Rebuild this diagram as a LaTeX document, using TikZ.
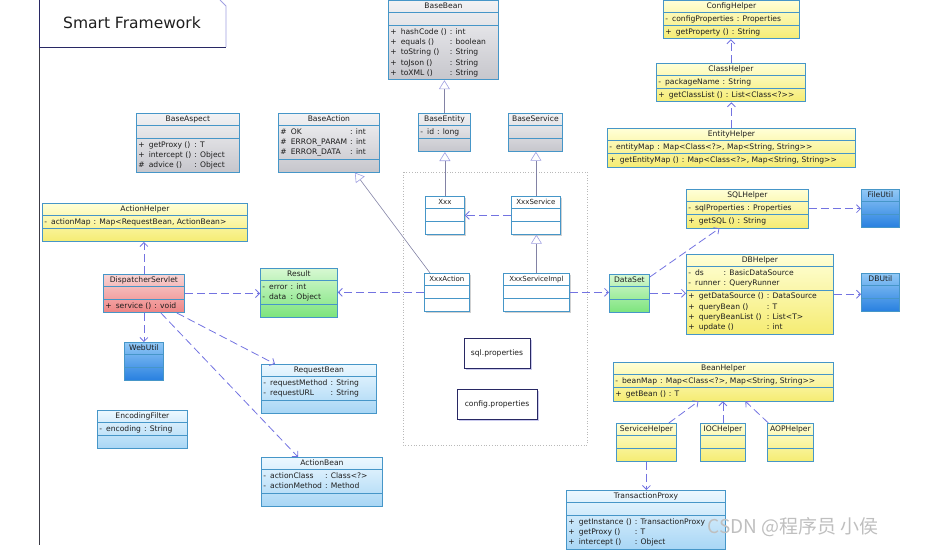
\documentclass[tikz,border=0pt]{standalone}
\usepackage{fontspec}
\setmainfont{DejaVu Sans}
\newfontfamily\cjkfont{Noto Sans CJK SC}
\usepackage{xcolor}
\usetikzlibrary{shapes.multipart, arrows.meta, shadows, calc}

\definecolor{umlborder}{RGB}{70,150,200}
\definecolor{deparrow}{RGB}{115,115,225}
\definecolor{genline}{RGB}{130,130,165}
\definecolor{gentip}{RGB}{160,160,225}
\definecolor{notenavy}{RGB}{40,40,100}
\definecolor{framegray}{RGB}{60,60,70}
\definecolor{txt}{RGB}{30,30,30}
\definecolor{grayTop}{RGB}{242,242,244}
\definecolor{grayBot}{RGB}{198,198,204}
\definecolor{yellowTop}{RGB}{255,255,215}
\definecolor{yellowBot}{RGB}{245,236,115}
\definecolor{greenTop}{RGB}{215,248,210}
\definecolor{greenBot}{RGB}{125,228,125}
\definecolor{redTop}{RGB}{248,212,212}
\definecolor{redBot}{RGB}{238,132,132}
\definecolor{blueTop}{RGB}{145,200,246}
\definecolor{blueBot}{RGB}{40,128,224}
\definecolor{lblueTop}{RGB}{236,248,255}
\definecolor{lblueBot}{RGB}{168,214,245}

\newcommand{\umlmembers}[1]{\begin{tabular}{@{}l@{\hspace{4pt}}l@{\hspace{3pt}}l@{}}#1\end{tabular}}
\newcommand{\umltitle}[1]{\rule[-2.5pt]{0pt}{9.5pt}#1}

\begin{document}
\begin{tikzpicture}[
    x=1pt, y=-1pt,
    umlclass/.style={draw=umlborder, line width=0.8pt, rectangle split, rectangle split parts=3,
        rectangle split part align={center,left,left}, rectangle split empty part height=10pt,
        anchor=north west, inner xsep=2pt, inner ysep=1pt, text=txt,
        font=\fontsize{7.6}{10.3}\selectfont},
    graybox/.style={umlclass, top color=grayTop, bottom color=grayBot},
    yellowbox/.style={umlclass, top color=yellowTop, bottom color=yellowBot},
    greenbox/.style={umlclass, top color=greenTop, bottom color=greenBot},
    redbox/.style={umlclass, top color=redTop, bottom color=redBot},
    bluebox/.style={umlclass, top color=blueTop, bottom color=blueBot},
    lbluebox/.style={umlclass, top color=lblueTop, bottom color=lblueBot},
    whitebox/.style={umlclass, fill=white, inner xsep=1.5pt, font=\fontsize{7}{10.3}\selectfont,
        drop shadow={shadow xshift=1.5pt, shadow yshift=-1.5pt, fill=gray!60, opacity=0.6}},
    notebox/.style={draw=notenavy, line width=0.8pt, fill=white, text=txt, minimum height=30pt,
        font=\fontsize{7.6}{9}\selectfont,
        drop shadow={shadow xshift=2pt, shadow yshift=-2pt, fill=gentip!70, opacity=0.8}},
    dep/.style={draw=deparrow, line width=0.8pt, dash pattern=on 8pt off 4pt,
        -{Straight Barb[length=4pt, width=8pt]}},
    gen/.style={draw=genline, line width=0.6pt,
        -{Triangle[open, length=9pt, width=11pt, color=gentip, fill=white]}}
]
    \useasboundingbox (0,0) rectangle (944,559);

    % Frame and title
    \draw[framegray, line width=0.8pt] (39,0) -- (39,545);
    \draw[notenavy, line width=0.8pt] (39,0) -- (39,47) -- (226,47);
    \draw[gentip, line width=0.8pt] (220,0) -- (226,6) -- (226,47);
    \node[font=\fontsize{15.5}{18}\selectfont, text=txt] (frametitle) at (132,23) {Smart Framework};

    % Package of application classes
    \draw[gray!55, dotted, line width=0.7pt] (403,172) rectangle (587,445);

    % Base classes
    \node[graybox, minimum width=110pt] (basebean) at (388,0) {\umltitle{BaseBean}
        \nodepart{two}
        \nodepart{three}\umlmembers{+ & hashCode () & : int\\ + & equals () & : boolean\\ + & toString () & : String\\ + & toJson () & : String\\ + & toXML () & : String}};
    \node[graybox, minimum width=103pt] (baseaspect) at (136,113) {\umltitle{BaseAspect}
        \nodepart{two}
        \nodepart{three}\umlmembers{+ & getProxy () & : T\\ + & intercept () & : Object\\ \# & advice () & : Object}};
    \node[graybox, minimum width=101pt] (baseaction) at (278,113) {\umltitle{BaseAction}
        \nodepart{two}\umlmembers{\# & OK & : int\\ \# & ERROR\_PARAM & : int\\ \# & ERROR\_DATA & : int}
        \nodepart{three}};
    \node[graybox, minimum width=52pt] (baseentity) at (418,113) {\umltitle{BaseEntity}
        \nodepart{two}\umlmembers{- & id & : long}
        \nodepart{three}};
    \node[graybox, minimum width=54pt] (baseservice) at (508,113) {\umltitle{BaseService}
        \nodepart{two}
        \nodepart{three}};

    % Application classes
    \node[whitebox, minimum width=39pt] (xxx) at (425,196) {\umltitle{Xxx}\nodepart{two}\nodepart{three}};
    \node[whitebox, minimum width=49pt] (xxxservice) at (511,196) {\umltitle{XxxService}\nodepart{two}\nodepart{three}};
    \node[whitebox, minimum width=45pt] (xxxaction) at (424,273) {\umltitle{XxxAction}\nodepart{two}\nodepart{three}};
    \node[whitebox, minimum width=66pt] (xxxserviceimpl) at (503,273) {\umltitle{XxxServiceImpl}\nodepart{two}\nodepart{three}};
    \node[notebox, minimum width=66pt] (sqlprops) at (497,353) {sql.properties};
    \node[notebox, minimum width=80pt] (configprops) at (497,404) {config.properties};

    % MVC side
    \node[yellowbox, minimum width=205pt] (actionhelper) at (42,203) {\umltitle{ActionHelper}
        \nodepart{two}\umlmembers{- & actionMap & : Map<RequestBean, ActionBean>}
        \nodepart{three}};
    \node[redbox, minimum width=81pt] (dispatcher) at (103,274) {\umltitle{DispatcherServlet}
        \nodepart{two}
        \nodepart{three}\umlmembers{+ & service () & : void}};
    \node[greenbox, minimum width=77pt] (result) at (260,268) {\umltitle{Result}
        \nodepart{two}\umlmembers{- & error & : int\\ - & data & : Object}
        \nodepart{three}};
    \node[bluebox, minimum width=39pt] (webutil) at (124,342) {\umltitle{WebUtil}\nodepart{two}\nodepart{three}};
    \node[lbluebox, minimum width=115pt] (requestbean) at (261,364) {\umltitle{RequestBean}
        \nodepart{two}\umlmembers{- & requestMethod & : String\\ - & requestURL & : String}
        \nodepart{three}};
    \node[lbluebox, minimum width=90pt] (encodingfilter) at (97,410) {\umltitle{EncodingFilter}
        \nodepart{two}\umlmembers{- & encoding & : String}
        \nodepart{three}};
    \node[lbluebox, minimum width=121pt] (actionbean) at (261,457) {\umltitle{ActionBean}
        \nodepart{two}\umlmembers{- & actionClass & : Class<?>\\ - & actionMethod & : Method}
        \nodepart{three}};

    % Helpers
    \node[yellowbox, minimum width=136pt] (confighelper) at (663,0) {\umltitle{ConfigHelper}
        \nodepart{two}\umlmembers{- & configProperties & : Properties}
        \nodepart{three}\umlmembers{+ & getProperty () & : String}};
    \node[yellowbox, minimum width=149pt] (classhelper) at (656,63) {\umltitle{ClassHelper}
        \nodepart{two}\umlmembers{- & packageName & : String}
        \nodepart{three}\umlmembers{+ & getClassList () & : List<Class<?>{}>}};
    \node[yellowbox, minimum width=248pt] (entityhelper) at (607,128) {\umltitle{EntityHelper}
        \nodepart{two}\umlmembers{- & entityMap & : Map<Class<?>, Map<String, String>{}>}
        \nodepart{three}\umlmembers{+ & getEntityMap () & : Map<Class<?>, Map<String, String>{}>}};
    \node[greenbox, minimum width=40pt] (dataset) at (609,274) {\umltitle{DataSet}\nodepart{two}\nodepart{three}};
    \node[yellowbox, minimum width=122pt] (sqlhelper) at (686,189) {\umltitle{SQLHelper}
        \nodepart{two}\umlmembers{- & sqlProperties & : Properties}
        \nodepart{three}\umlmembers{+ & getSQL () & : String}};
    \node[yellowbox, minimum width=147pt] (dbhelper) at (686,254) {\umltitle{DBHelper}
        \nodepart{two}\umlmembers{- & ds & : BasicDataSource\\ - & runner & : QueryRunner}
        \nodepart{three}\umlmembers{+ & getDataSource () & : DataSource\\ + & queryBean () & : T\\ + & queryBeanList () & : List<T>\\ + & update () & : int}};
    \node[bluebox, minimum width=38pt] (fileutil) at (861,189) {\umltitle{FileUtil}\nodepart{two}\nodepart{three}};
    \node[bluebox, minimum width=38pt] (dbutil) at (861,273) {\umltitle{DBUtil}\nodepart{two}\nodepart{three}};
    \node[yellowbox, minimum width=220pt] (beanhelper) at (613,362) {\umltitle{BeanHelper}
        \nodepart{two}\umlmembers{- & beanMap & : Map<Class<?>, Map<String, String>{}>}
        \nodepart{three}\umlmembers{+ & getBean () & : T}};
    \node[yellowbox, minimum width=60pt] (servicehelper) at (616,423) {\umltitle{ServiceHelper}\nodepart{two}\nodepart{three}};
    \node[yellowbox, minimum width=45pt] (iochelper) at (700,423) {\umltitle{IOCHelper}\nodepart{two}\nodepart{three}};
    \node[yellowbox, minimum width=46pt] (aophelper) at (767,423) {\umltitle{AOPHelper}\nodepart{two}\nodepart{three}};
    \node[lbluebox, minimum width=159pt] (transproxy) at (566,490) {\umltitle{TransactionProxy}
        \nodepart{two}
        \nodepart{three}\umlmembers{+ & getInstance () & : TransactionProxy\\ + & getProxy () & : T\\ + & intercept () & : Object}};

    % Generalizations
    \draw[gen] (baseentity.north) -- (baseentity.north |- basebean.south);
    \draw[gen] (xxx.north) -- (xxx.north |- baseentity.south);
    \draw[gen] (xxxservice.north) -- (xxxservice.north |- baseservice.south);
    \draw[gen] (xxxserviceimpl.north) -- (xxxserviceimpl.north |- xxxservice.south);
    \draw[gen] ($(xxxaction.north west)+(6,0)$) -- ($(baseaction.south)+(26,0)$);

    % Dependencies
    \draw[dep] (xxxservice.west) -- (xxx.east |- xxxservice.west);
    \draw[dep] (xxxaction.west) -- (result.east |- xxxaction.west);
    \draw[dep] (dispatcher.east) -- (result.west |- dispatcher.east);
    \draw[dep] (xxxserviceimpl.east) -- (dataset.west |- xxxserviceimpl.east);
    \draw[dep] (dispatcher.north) -- (dispatcher.north |- actionhelper.south);
    \draw[dep] (dispatcher.south) -- (dispatcher.south |- webutil.north);
    \draw[dep] ($(dispatcher.south)+(33,0)$) -- ($(requestbean.north west)+(14,0)$);
    \draw[dep] ($(dispatcher.south)+(17,0)$) -- ($(actionbean.north west)+(37,0)$);
    \draw[dep] (classhelper.north) -- (classhelper.north |- confighelper.south);
    \draw[dep] (entityhelper.north) -- (entityhelper.north |- classhelper.south);
    \draw[dep] ($(dataset.north east)+(0,3)$) -- ($(sqlhelper.south)+(-28,0)$);
    \draw[dep] (dataset.east) -- (dbhelper.west |- dataset.east);
    \draw[dep] (sqlhelper.east) -- (fileutil.west |- sqlhelper.east);
    \draw[dep] (dbhelper.east) -- (dbutil.west |- dbhelper.east);
    \draw[dep] ($(servicehelper.north east)+(-8,0)$) -- ($(beanhelper.south)+(-25,0)$);
    \draw[dep] (iochelper.north) -- (iochelper.north |- beanhelper.south);
    \draw[dep] ($(aophelper.north)+(-22,0)$) -- ($(beanhelper.south)+(22,0)$);
    \draw[dep] (servicehelper.south) -- (servicehelper.south |- transproxy.north);

    % Watermark
    \node[anchor=west, font=\cjkfont\fontsize{19}{19}\selectfont, text=gray!50] (watermark) at (704,527) {CSDN @程序员 小侯};
\end{tikzpicture}
\end{document}
